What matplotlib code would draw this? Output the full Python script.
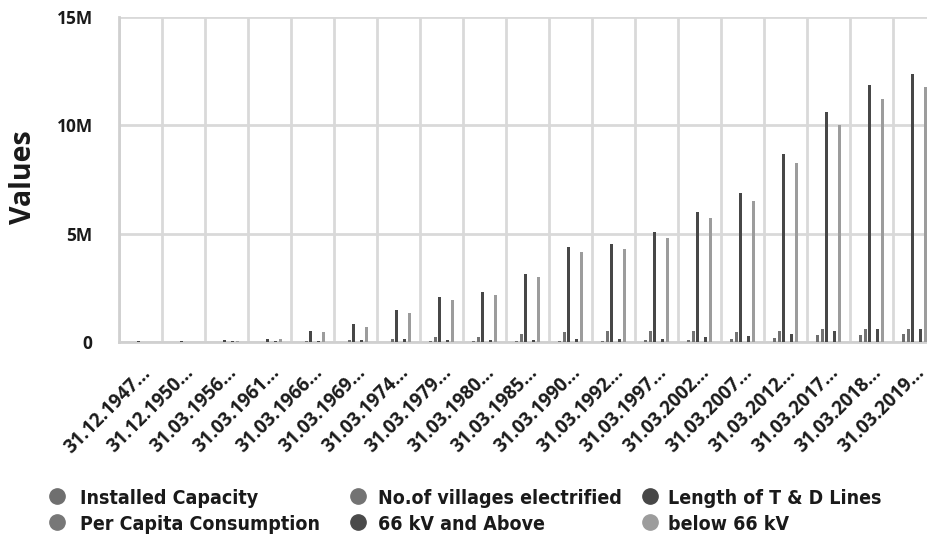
import matplotlib
matplotlib.use("Agg")
import matplotlib.pyplot as plt
import numpy as np
from matplotlib.lines import Line2D
from matplotlib.ticker import FuncFormatter, MultipleLocator

dates = [
    "31.12.1947…", "31.12.1950…", "31.03.1956…", "31.03.1961…", "31.03.1966…",
    "31.03.1969…", "31.03.1974…", "31.03.1979…", "31.03.1980…", "31.03.1985…",
    "31.03.1990…", "31.03.1992…", "31.03.1997…", "31.03.2002…", "31.03.2007…",
    "31.03.2012…", "31.03.2017…", "31.03.2018…", "31.03.2019…",
]
installed_capacity = [1362, 1713, 2886, 4653, 9027, 12957, 16664, 26680, 28448, 42585,
                      63636, 69065, 85795, 105046, 132329, 199877, 326833, 344002, 356100]
villages_electrified = [3061, 3061, 7294, 21754, 45144, 73739, 156729, 232770, 249799, 370332,
                        470838, 487170, 498836, 490000, 450000, 530000, 580000, 597000, 597000]
td_lines = [30000, 30000, 85000, 160000, 500000, 840000, 1500000, 2100000, 2300000, 3150000,
            4370000, 4520000, 5100000, 6000000, 6880000, 8690000, 10630000, 11870000, 12390000]
per_capita = [16.3, 18.2, 30.9, 45.9, 73.9, 97.9, 126.2, 171.6, 172.4, 228.7,
              329.2, 347.5, 464.3, 559.2, 671.9, 883.6, 1122, 1149, 1181]
kv66_above = [23000, 23000, 25000, 40000, 60000, 100000, 120000, 100000, 100000, 90000,
              150000, 150000, 140000, 220000, 290000, 370000, 520000, 590000, 600000]
below_66kv = [6000, 6000, 60000, 120000, 450000, 700000, 1340000, 1940000, 2170000, 3000000,
              4140000, 4290000, 4800000, 5710000, 6530000, 8250000, 10030000, 11200000, 11780000]

series = [
    ("Installed Capacity", installed_capacity, "#6f6f6f"),
    ("No.of villages electrified", villages_electrified, "#737373"),
    ("Length of T & D Lines", td_lines, "#474747"),
    ("Per Capita Consumption", per_capita, "#777777"),
    ("66 kV and Above", kv66_above, "#4a4a4a"),
    ("below 66 kV", below_66kv, "#9c9c9c"),
]

W, H = 927, 540
fig = plt.figure(figsize=(W / 100, H / 100), dpi=100)
ax = fig.add_axes([119 / W, 198 / H, 817 / W, 325 / H])

x = np.arange(len(dates))
for i, (label, vals, color) in enumerate(series):
    ax.bar(x + (i - 2.5) * 0.1, vals, width=0.07, color=color, zorder=3)

ax.set_xlim(-0.5, len(dates) - 0.5)
ax.set_ylim(0, 15_000_000)
ax.yaxis.set_major_locator(MultipleLocator(5_000_000))
ax.yaxis.set_major_formatter(FuncFormatter(lambda v, p: "0" if v == 0 else f"{v / 1e6:.0f}M"))

ax.set_xticks(x)
ax.set_xticks(np.arange(len(dates) + 1) - 0.5, minor=True)
ax.set_xticklabels(dates, rotation=45, ha="right", rotation_mode="anchor",
                   fontsize=13.5, fontweight="bold", family="Open Sans", color="#1a1a1a")
for t in ax.get_yticklabels():
    t.set_fontsize(12.5)
    t.set_fontweight("bold")
    t.set_family("Open Sans")
    t.set_color("#1a1a1a")

ax.tick_params(axis="both", which="both", length=0)
ax.tick_params(axis="x", pad=15)
ax.tick_params(axis="y", pad=19)
ax.grid(axis="y", which="major", color="#d9d9d9", linewidth=2, zorder=0)
ax.grid(axis="x", which="minor", color="#d9d9d9", linewidth=2, zorder=0)
ax.grid(axis="x", which="major", visible=False)
for side in ["top", "right"]:
    ax.spines[side].set_visible(False)
for side in ["left", "bottom"]:
    ax.spines[side].set_color("#d0d0d0")
    ax.spines[side].set_linewidth(2)

fig.text(24 / W, 1 - 177 / H, "Values", rotation=90, ha="center", va="center",
         fontsize=20.5, fontweight="bold", family="Open Sans", color="#1a1a1a")

# legend, laid out by hand: 3 columns x 2 rows, filled row-wise
marker_x = [57, 358, 650]
text_x = [80, 378, 668]
row_y = [496, 522]
for i, (label, _, color) in enumerate(series):
    col, row = i % 3, i // 3
    fig.add_artist(Line2D([marker_x[col] / W], [1 - row_y[row] / H], transform=fig.transFigure,
                          marker="o", markersize=11, linestyle="",
                          markerfacecolor=color, markeredgecolor=color))
    fig.text(text_x[col] / W, 1 - row_y[row] / H, label, ha="left", va="center_baseline",
             fontsize=14, fontweight="semibold", fontstretch="condensed",
             family="DejaVu Sans", color="#1a1a1a")

fig.savefig("out.png", dpi=100)
